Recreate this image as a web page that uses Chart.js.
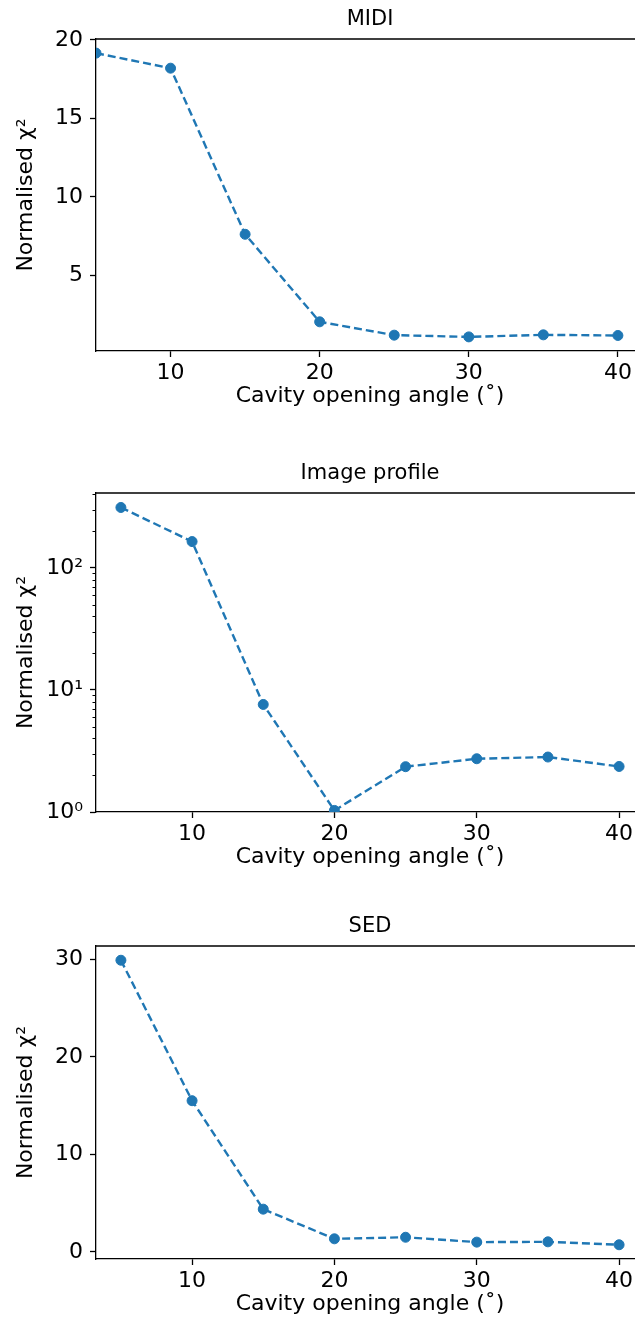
<!DOCTYPE html>
<html>
<head>
<meta charset="utf-8">
<script src="https://cdn.jsdelivr.net/npm/chart.js@4.4.1/dist/chart.umd.min.js"></script>
<style>
  html, body { margin: 0; padding: 0; background: #fff; }
  #wrap { position: relative; width: 635px; height: 1328px; overflow: hidden; }
  canvas { position: absolute; left: 0; }
</style>
</head>
<body>
<div id="wrap">
  <canvas id="midiChart"></canvas>
  <canvas id="profileChart"></canvas>
  <canvas id="sedChart"></canvas>
</div>
<script>
// data
const angles = [5, 10, 15, 20, 25, 30, 35, 40];
const midiChi2 = [19.16, 18.2, 7.61, 2.03, 1.18, 1.07, 1.2, 1.16];
const profileChi2 = [312, 164, 7.6, 1.03, 2.35, 2.73, 2.82, 2.36];
const sedChi2 = [29.9, 15.5, 4.38, 1.34, 1.5, 1.0, 1.03, 0.73];

const xTicks = [10, 20, 30, 40];
const midiTicks = [5, 10, 15, 20];
const profileTicks = [1, 10, 100];
const sedTicks = [0, 10, 20, 30];

const xLabel = "Cavity opening angle (˚)";
const yLabel = "Normalised χ²";
const supers = { "0": "⁰", "1": "¹", "2": "²" };

const blue = "#1f77b4";
const FONT = "DejaVu Sans";
const TXT = 22;
Chart.defaults.color = "#000";
Chart.defaults.font.family = FONT;

const TITLE_BLOCK = 45;
const XAXIS_H = 70;

// top & right spine of the axes box
const framePlugin = {
  id: "frame",
  afterDraw(chart) {
    const a = chart.chartArea, c = chart.ctx;
    c.save();
    c.strokeStyle = "#000";
    c.lineWidth = 1.3;
    c.beginPath();
    c.moveTo(a.left, a.top);
    c.lineTo(a.right, a.top);
    c.lineTo(a.right, a.bottom);
    c.stroke();
    c.restore();
  }
};

// short minor ticks on the log axis
const minorLogTicks = {
  id: "minorLogTicks",
  afterDraw(chart) {
    const y = chart.scales.y;
    if (y.type !== "logarithmic") return;
    const c = chart.ctx, left = chart.chartArea.left;
    c.save();
    c.strokeStyle = "#000";
    c.lineWidth = 1;
    profileTicks.forEach(d => {
      for (let k = 2; k <= 9; k++) {
        const v = k * d;
        if (v < y.min || v > y.max) continue;
        const py = Math.round(y.getPixelForValue(v)) + 0.5;
        c.beginPath();
        c.moveTo(left - 3.5, py);
        c.lineTo(left, py);
        c.stroke();
      }
    });
    c.restore();
  }
};

function makePanel(p) {
  const cv = document.getElementById(p.id);
  cv.width = 660;
  cv.height = (p.plotBottom - p.plotTop) + TITLE_BLOCK + XAXIS_H;
  cv.style.top = (p.plotTop - TITLE_BLOCK) + "px";

  const axisLine = { display: true, color: "#000", width: 1.3 };
  const tickGrid = { display: true, drawOnChartArea: false, drawTicks: true, tickLength: 6, tickWidth: 1.3, tickColor: "#000" };

  new Chart(cv, {
    type: "line",
    data: {
      datasets: [{
        data: angles.map((a, i) => ({ x: a, y: p.values[i] })),
        borderColor: blue,
        backgroundColor: blue,
        borderWidth: 2.4,
        borderDash: [8, 4],
        pointRadius: 5,
        pointBorderWidth: 1,
        pointBorderColor: blue,
        pointBackgroundColor: blue,
        tension: 0,
        clip: 0
      }]
    },
    options: {
      responsive: false,
      animation: false,
      devicePixelRatio: 1,
      layout: { padding: { left: 0, right: 16, top: 0, bottom: 0 } },
      plugins: {
        legend: { display: false },
        tooltip: { enabled: false },
        title: {
          display: true,
          text: p.title,
          fullSize: false,
          color: "#000",
          font: { family: FONT, size: 21, weight: "normal" },
          padding: { top: 12.9, bottom: 6.9 }
        }
      },
      scales: {
        x: {
          type: "linear",
          min: p.xMin,
          max: p.xMax,
          z: 1,
          afterBuildTicks: s => { s.ticks = xTicks.map(v => ({ value: v })); },
          afterFit: s => { s.height = XAXIS_H; },
          border: axisLine,
          grid: tickGrid,
          ticks: { font: { size: TXT }, padding: 3, maxRotation: 0, autoSkip: false },
          title: { display: true, text: xLabel, font: { size: TXT }, padding: { top: 0, bottom: 12 } }
        },
        y: {
          type: p.yType,
          min: p.yMin,
          max: p.yMax,
          z: 1,
          afterBuildTicks: s => { s.ticks = p.yTicks.map(v => ({ value: v, major: true })); },
          afterFit: s => { s.width = 96; },
          border: axisLine,
          grid: tickGrid,
          ticks: {
            font: { size: TXT },
            padding: 7,
            autoSkip: false,
            callback: v => p.yType === "logarithmic"
              ? "10" + supers[String(Math.round(Math.log10(v)))]
              : String(v)
          },
          title: { display: true, text: yLabel, font: { size: TXT }, padding: { top: 13, bottom: 0 } }
        }
      }
    },
    plugins: [framePlugin, minorLogTicks]
  });
}

makePanel({ id: "midiChart", title: "MIDI", values: midiChi2, yType: "linear",
  yMin: 0.17, yMax: 20.06, yTicks: midiTicks, xMin: 5, xMax: 41.75, plotTop: 38.5, plotBottom: 350.7 });
makePanel({ id: "profileChart", title: "Image profile", values: profileChi2, yType: "logarithmic",
  yMin: 1, yMax: 410, yTicks: profileTicks, xMin: 3.25, xMax: 41.75, plotTop: 493.3, plotBottom: 812.7 });
makePanel({ id: "sedChart", title: "SED", values: sedChi2, yType: "linear",
  yMin: -0.73, yMax: 31.36, yTicks: sedTicks, xMin: 3.25, xMax: 41.75, plotTop: 945.7, plotBottom: 1258.7 });
</script>
</body>
</html>
